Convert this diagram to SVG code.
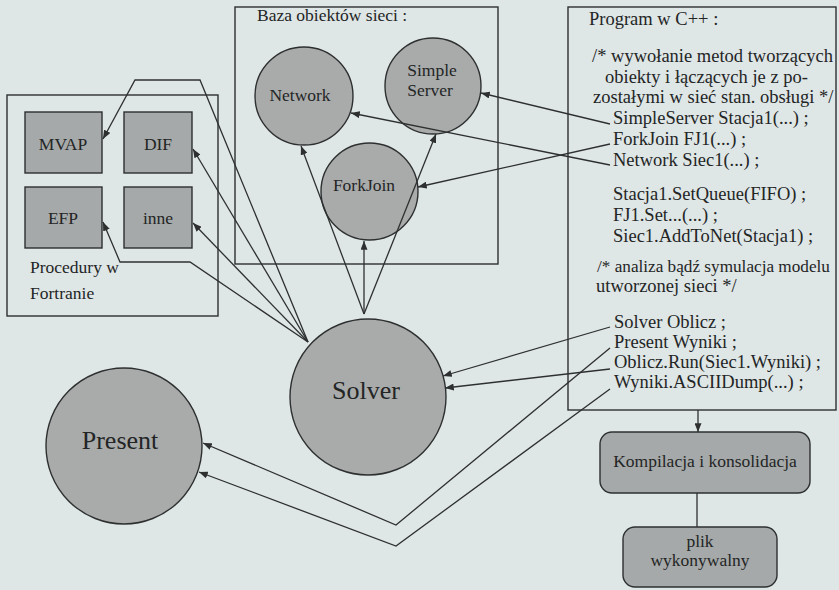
<svg xmlns="http://www.w3.org/2000/svg" width="839" height="590" viewBox="0 0 839 590">
<defs>
<marker id="ah" viewBox="0 0 10 8" refX="10" refY="4" markerWidth="9" markerHeight="7" orient="auto" markerUnits="userSpaceOnUse">
<path d="M0,0 L10,4 L0,8 z" fill="#2e3030"/>
</marker>
</defs>
<style>
text{font-family:"Liberation Serif","Times New Roman",serif;fill:#232525;}
.frame{fill:none;stroke:#2e3030;stroke-width:1.4;}
.blk{fill:#a6a9a9;stroke:#2e3030;stroke-width:1.4;}
.circ{fill:#a9abab;stroke:#2e3030;stroke-width:1.4;}
.c{text-anchor:middle;}
.lbl{font-size:17.5px;}
.code{font-size:18.5px;}
.big{font-size:26px;}
#connectors line,#connectors polyline{fill:none;stroke:#2e3030;stroke-width:1.3;}
</style>
<rect x="0" y="0" width="839" height="590" fill="#dfe6e6"/>

<g id="fortran">
<rect class="frame" x="7" y="95" width="211" height="221"/>
<text class="lbl" x="30" y="273">Procedury w</text>
<text class="lbl" x="30" y="299">Fortranie</text>
</g>
<g id="mvap"><rect class="blk" x="25" y="112" width="77" height="61"/><text class="lbl c" x="63" y="150">MVAP</text></g>
<g id="dif"><rect class="blk" x="124" y="112" width="68" height="61"/><text class="lbl c" x="158" y="150">DIF</text></g>
<g id="efp"><rect class="blk" x="25" y="187" width="77" height="61"/><text class="lbl c" x="63" y="224">EFP</text></g>
<g id="inne"><rect class="blk" x="124" y="187" width="68" height="61"/><text class="lbl c" x="158" y="224">inne</text></g>

<g id="baza">
<rect class="frame" x="235" y="7" width="263" height="257"/>
<text class="lbl" x="257" y="21">Baza obiektów sieci :</text>
</g>
<g id="network"><circle class="circ" cx="304" cy="96" r="49"/><text class="lbl c" x="300" y="101">Network</text></g>
<g id="simpleserver"><circle class="circ" cx="433" cy="86" r="48"/><text class="lbl c" x="432" y="76">Simple</text><text class="lbl c" x="430" y="96">Server</text></g>
<g id="forkjoin"><circle class="circ" cx="369.5" cy="191.5" r="48.5"/><text class="lbl c" x="364" y="191">ForkJoin</text></g>

<g id="solver"><circle class="circ" cx="368" cy="397" r="78"/><text class="big c" x="366" y="399">Solver</text></g>
<g id="present"><circle class="circ" cx="124" cy="446" r="78"/><text class="big c" x="120" y="449">Present</text></g>

<g id="program">
<rect class="frame" x="568" y="7" width="268" height="403"/>
<text class="code" x="589" y="25">Program w C++ :</text>
<text class="code" x="592" y="62">/* wywołanie metod tworzących</text>
<text class="code" x="605" y="83">obiekty i łączących je z po-</text>
<text class="code" x="593" y="103">zostałymi w sieć stan. obsługi */</text>
<text class="code" x="613" y="124">SimpleServer Stacja1(...) ;</text>
<text class="code" x="613" y="145">ForkJoin FJ1(...) ;</text>
<text class="code" x="613" y="166">Network Siec1(...) ;</text>
<text class="code" x="613" y="200">Stacja1.SetQueue(FIFO) ;</text>
<text class="code" x="613" y="221">FJ1.Set...(...) ;</text>
<text class="code" x="613" y="242">Siec1.AddToNet(Stacja1) ;</text>
<text class="code" x="597" y="272" style="font-size:17.2px">/* analiza bądź symulacja modelu</text>
<text class="code" x="596" y="292">utworzonej sieci */</text>
<text class="code" x="614" y="328">Solver Oblicz ;</text>
<text class="code" x="614" y="348">Present Wyniki ;</text>
<text class="code" x="614" y="368">Oblicz.Run(Siec1.Wyniki) ;</text>
<text class="code" x="614" y="388">Wyniki.ASCIIDump(...) ;</text>
</g>

<g id="kompilacja"><rect class="blk" x="600" y="432" width="210" height="61" rx="12"/><text class="lbl c" x="705" y="467">Kompilacja i konsolidacja</text></g>
<g id="plik"><rect class="blk" x="623" y="527" width="154" height="60" rx="12"/><text class="lbl c" x="700" y="547">plik</text><text class="lbl c" x="700" y="566">wykonywalny</text></g>

<g id="connectors">
<polyline points="308,342 200,80 135,80 103,139" marker-end="url(#ah)"/>
<line x1="308" y1="342" x2="193" y2="149" marker-end="url(#ah)"/>
<line x1="308" y1="342" x2="193" y2="223" marker-end="url(#ah)"/>
<polyline points="308,342 190,262 120,262 103,222" marker-end="url(#ah)"/>
<line x1="364" y1="314" x2="301" y2="146" marker-end="url(#ah)"/>
<line x1="364" y1="314" x2="364" y2="241" marker-end="url(#ah)"/>
<line x1="364" y1="314" x2="436" y2="134" marker-end="url(#ah)"/>
<line x1="610" y1="124" x2="481" y2="93" marker-end="url(#ah)"/>
<line x1="610" y1="144" x2="418" y2="187" marker-end="url(#ah)"/>
<line x1="610" y1="165" x2="351" y2="113" marker-end="url(#ah)"/>
<line x1="610" y1="327" x2="443" y2="376" marker-end="url(#ah)"/>
<line x1="610" y1="369" x2="445" y2="388" marker-end="url(#ah)"/>
<polyline points="610,348 396,525 203,443" marker-end="url(#ah)"/>
<polyline points="610,389 396,546 199,472" marker-end="url(#ah)"/>
<line x1="698" y1="410" x2="698" y2="432" marker-end="url(#ah)"/>
<line x1="697" y1="493" x2="697" y2="527"/>
</g>
</svg>
